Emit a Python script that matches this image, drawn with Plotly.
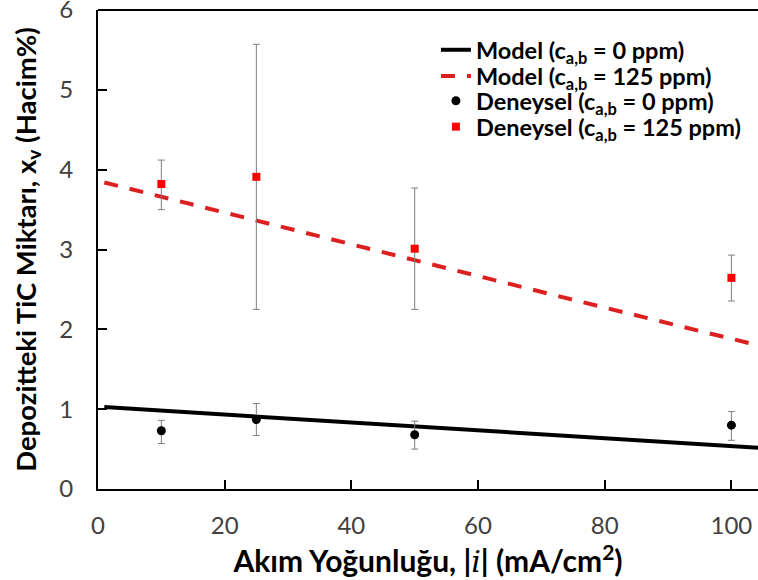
import plotly.graph_objects as go

# Experimental TiC content at each current density
current_density = [10, 25, 50, 100]
exp_0ppm = [0.73, 0.87, 0.68, 0.80]
exp_0ppm_err_plus = [0.13, 0.20, 0.17, 0.17]
exp_0ppm_err_minus = [0.16, 0.20, 0.18, 0.19]

exp_125ppm = [3.82, 3.91, 3.01, 2.645]
exp_125ppm_err_plus = [0.30, 1.66, 0.76, 0.285]
exp_125ppm_err_minus = [0.32, 1.66, 0.76, 0.29]

# Model curves
model_x = [1, 25, 50, 75, 104.2]
model_0ppm = [1.026, 0.905, 0.783, 0.660, 0.516]
model_125ppm = [3.84, 3.36, 2.86, 2.37, 1.80]

title_font = "Lato"
tick_font = "Liberation Sans Narrow, Lato, sans-serif"

fig = go.Figure()

fig.add_trace(go.Scatter(
    x=model_x, y=model_0ppm, mode="lines",
    line=dict(color="#000000", width=4),
    name="Model (c<sub>a,b</sub> = 0 ppm)", legend="legend",
))
fig.add_trace(go.Scatter(
    x=model_x, y=model_125ppm, mode="lines",
    line=dict(color="#dc1f1f", width=4, dash="14px,12px"),
    name="Model (c<sub>a,b</sub> = 125 ppm)", legend="legend2",
))
fig.add_trace(go.Scatter(
    x=current_density, y=exp_0ppm, mode="markers",
    marker=dict(symbol="circle", size=9, color="#000000"),
    error_y=dict(type="data", symmetric=False, array=exp_0ppm_err_plus,
                 arrayminus=exp_0ppm_err_minus, color="#7f7f7f",
                 thickness=1, width=3.5),
    name="Deneysel (c<sub>a,b</sub> = 0 ppm)", legend="legend3",
))
fig.add_trace(go.Scatter(
    x=current_density, y=exp_125ppm, mode="markers",
    marker=dict(symbol="square", size=8, color="#ff0000"),
    error_y=dict(type="data", symmetric=False, array=exp_125ppm_err_plus,
                 arrayminus=exp_125ppm_err_minus, color="#7f7f7f",
                 thickness=1, width=3.5),
    name="Deneysel (c<sub>a,b</sub> = 125 ppm)", legend="legend4",
))

# Plot-area frame along the top edge
fig.add_shape(type="line", xref="paper", yref="paper", x0=0, x1=1, y0=1, y1=1,
              line=dict(color="#000000", width=2))


def legend_row(y):
    return dict(
        x=0.512, y=y, xanchor="left", yanchor="middle",
        bgcolor="rgba(0,0,0,0)",
        font=dict(family=title_font, size=23.5, color="#000000", weight="bold"),
    )


fig.update_layout(
    width=758, height=580,
    margin=dict(l=98, r=0, t=10, b=91, pad=0),
    paper_bgcolor="white", plot_bgcolor="white",
    showlegend=True,
    legend=legend_row(0.9165),
    legend2=legend_row(0.862),
    legend3=legend_row(0.810),
    legend4=legend_row(0.756),
    xaxis=dict(
        range=[0, 104.2], tickvals=[0, 20, 40, 60, 80, 100],
        ticks="inside", ticklen=9, tickwidth=1.5, tickcolor="#000000",
        showline=True, linecolor="#000000", linewidth=2, mirror=False,
        showgrid=False, zeroline=False, automargin=False,
        tickfont=dict(family=tick_font, size=24, color="#404040"),
        ticklabelstandoff=14, ticklabeloverflow="allow",
        title=dict(
            text="Akım Yoğunluğu, |<span style=\"font-family:'DejaVu Serif';font-weight:normal\"><i>i</i></span>| (mA/cm<sup>2</sup>)",
            font=dict(family=title_font, size=30, color="#000000", weight="bold"),
            standoff=2,
        ),
    ),
    yaxis=dict(
        range=[0, 6], tickvals=[0, 1, 2, 3, 4, 5, 6],
        ticks="inside", ticklen=9, tickwidth=1.5, tickcolor="#000000",
        showline=True, linecolor="#000000", linewidth=2, mirror=False,
        showgrid=False, zeroline=False, automargin=False,
        tickfont=dict(family=tick_font, size=24, color="#404040"),
        ticklabelstandoff=18, ticklabeloverflow="allow",
        title=dict(
            text="Depozitteki TiC Miktarı, x<sub>v</sub> (Hacim%)",
            font=dict(family=title_font, size=27.5, color="#000000", weight="bold"),
            standoff=15,
        ),
    ),
)

fig.write_html("out.html")
